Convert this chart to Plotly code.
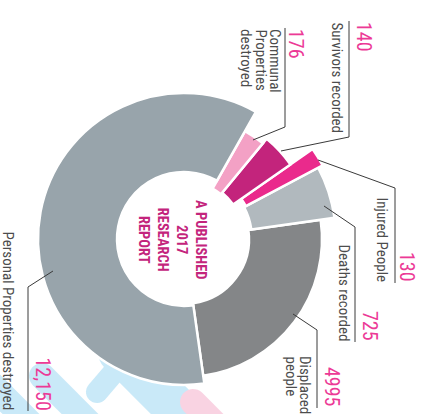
import numpy as np
import plotly.graph_objects as go

W, H = 429, 414

# ---------------- data ----------------
categories = ["Displaced people", "Deaths recorded", "Injured People",
              "Survivors recorded", "Communal Properties destroyed",
              "Personal Properties destroyed"]
values = [4995, 725, 130, 140, 176, 12150]
value_labels = ["4995", "725", "130", "140", "176", "12,150"]
label_lines = [["Displaced", "people"], ["Deaths recorded"], ["Injured People"],
               ["Survivors recorded"], ["Communal", "Properties", "destroyed"],
               ["Personal Properties destroyed"]]

# ---------------- slice geometry (infographic, hand-sized) ----------------
slice_span = [90, 20, 7, 15.5, 10, 217.5]      # degrees
slice_inner = [65, 68, 70, 60, 58, 67]
slice_outer = [138, 152, 157, 130, 124, 146]
slice_colors = ["#848688", "#b1b9be", "#ea2a8c", "#c3247c", "#f3a1c5", "#98a4ab"]
start_angle = -82

centers = []
a = start_angle
for s in slice_span:
    centers.append(a + s / 2)
    a += s

CX, CY, RMAX = 184, 239, 160


def px(x):
    return x / W


def py(y):
    return 1 - y / H


fig = go.Figure()
fig.add_trace(go.Barpolar(
    theta=centers,
    width=slice_span,
    base=slice_inner,
    r=[o - i for o, i in zip(slice_outer, slice_inner)],
    marker=dict(color=slice_colors, line=dict(color="white", width=2.5)),
    text=[f"{c}: {v:,}" for c, v in zip(categories, values)],
    hoverinfo="text",
    showlegend=False,
))

# ---------------- background decorative stripes ----------------
def capsule(p1, p2, w, n=16):
    p1 = np.array(p1, float)
    p2 = np.array(p2, float)
    d = p2 - p1
    ang = np.arctan2(d[1], d[0])
    pts = []
    for t in np.linspace(ang - np.pi / 2, ang + np.pi / 2, n):
        pts.append(p2 + w * np.array([np.cos(t), np.sin(t)]))
    for t in np.linspace(ang + np.pi / 2, ang + 3 * np.pi / 2, n):
        pts.append(p1 + w * np.array([np.cos(t), np.sin(t)]))
    path = "M " + " L ".join(f"{px(x):.5f},{py(y):.5f}" for x, y in pts) + " Z"
    return path


BLUE = "#c9e9f8"
PINK = "#f9d3e2"
stripes = [
    ((97, 392), (150, 330), 11, BLUE),
    ((42, 376), (130, 464), 13, BLUE),
    ((120, 352), (220, 452), 22, BLUE),
    ((-15, 378), (40, 433), 13, BLUE),
    ((193, 402), (240, 449), 13, PINK),
]
shapes = []
for p1, p2, w, col in stripes:
    shapes.append(dict(type="path", path=capsule(p1, p2, w), xref="paper", yref="paper",
                       fillcolor=col, line=dict(width=0), layer="below"))

# ---------------- leader lines ----------------
leaders = [
    [(293, 314), (317, 330), (317, 408)],
    [(324, 206), (355, 227), (355, 342)],
    [(318, 160), (395, 188), (395, 283)],
    [(281, 151), (349, 137), (349, 21)],
    [(253, 140), (285, 127), (285, 28)],
    [(53, 271), (28, 287), (28, 411)],
]
for pts in leaders:
    path = "M " + " L ".join(f"{px(x):.5f},{py(y):.5f}" for x, y in pts)
    shapes.append(dict(type="path", path=path, xref="paper", yref="paper",
                       line=dict(color="#3a3a3a", width=1)))

FONT = "Liberation Sans Narrow, Arial Narrow, Roboto Condensed, DejaVu Sans Condensed, sans-serif"
TXT = "#4d4d4d"
NUM = "#ec3a96"

# label anchor: (first text line x centre, number x centre, y, yanchor)
anchors = [
    (305, 332, 355, "top", 408),
    (344, 370, 342, "bottom", 342),
    (382, 407, 283, "bottom", 283),
    (337, 364, 21, "top", 21),
    (275, 296, 28, "top", 28),
    (8, 43, 411, "bottom", 411),
]
LINE_STEP = 14.5
annotations = []
for lines, val, (tx, nx, y, ya, ny) in zip(label_lines, value_labels, anchors):
    for k, ln in enumerate(lines):
        annotations.append(dict(x=px(tx - k * LINE_STEP), y=py(y), xref="paper", yref="paper",
                                text=ln, showarrow=False, textangle=90, xanchor="center",
                                yanchor=ya, font=dict(family=FONT, size=15, color=TXT),
                                borderpad=0))
    nya = "top" if ya == "top" and ny == y else "bottom"
    annotations.append(dict(x=px(nx), y=py(ny), xref="paper", yref="paper", text=val,
                            showarrow=False, textangle=90, xanchor="center", yanchor=nya,
                            font=dict(family=FONT, size=20, color=NUM), borderpad=0))

annotations.append(dict(x=px(172), y=py(240), xref="paper", yref="paper",
                        text="<b>A PUBLISHED<br>2017<br>RESEARCH<br>REPORT</b>",
                        showarrow=False, textangle=90, xanchor="center", yanchor="middle",
                        align="center", font=dict(family=FONT, size=14.5, color="#c3247c")))

fig.update_layout(
    width=W, height=H,
    margin=dict(l=0, r=0, t=0, b=0),
    paper_bgcolor="white",
    plot_bgcolor="white",
    polar=dict(
        domain=dict(x=[(CX - RMAX) / W, (CX + RMAX) / W],
                    y=[1 - (CY + RMAX) / H, 1 - (CY - RMAX) / H]),
        bgcolor="rgba(0,0,0,0)",
        radialaxis=dict(visible=False, range=[0, RMAX], showgrid=False),
        angularaxis=dict(visible=False, showgrid=False, rotation=0,
                         direction="counterclockwise"),
        bargap=0,
    ),
    shapes=shapes,
    annotations=annotations,
    showlegend=False,
)

fig.write_html("out.html")
